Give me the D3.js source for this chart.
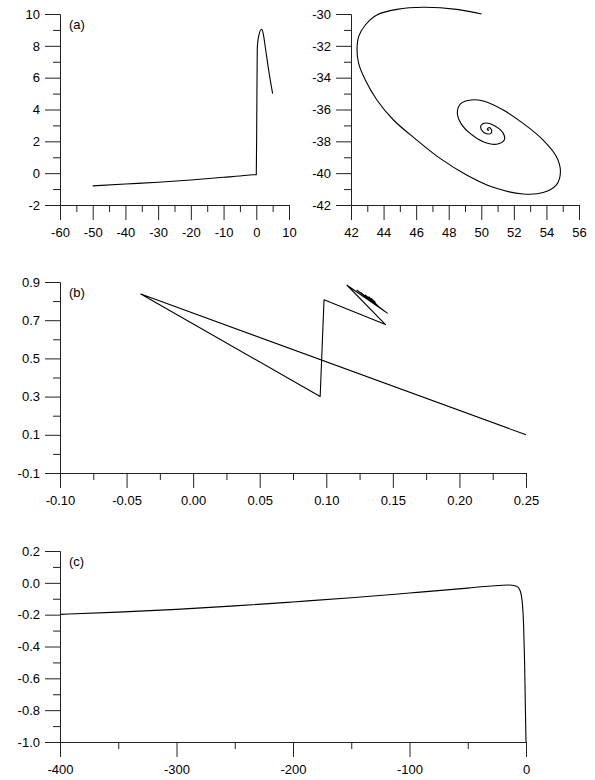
<!DOCTYPE html>
<html>
<head>
<meta charset="utf-8">
<script src="https://cdn.jsdelivr.net/npm/d3@7"></script>
<style>
  body { margin: 0; background: #fff; }
  svg text { font-family: "Liberation Sans", Arial, sans-serif; }
</style>
</head>
<body>
<div class="chart"></div>
<script>
// ---- data ----
// (a) left: trajectory
var aLeftX = [-50, -40, -30, -20, -10, -5, -1, 0, 0.15, 0.3, 0.8, 1.6, 2.1, 2.8, 3.85, 5];
var aLeftY = [-0.8, -0.68, -0.57, -0.43, -0.26, -0.18, -0.1, -0.1, 3.5, 7.85, 8.68, 9.04, 8.79, 7.85, 6.38, 5.0];

// (a) right: spiral
var aRightX = [50.02, 48.49, 46.45, 44.82, 43.59, 42.88, 42.47, 42.37, 42.47, 42.88, 43.59, 44.61, 46.04,
  47.47, 49.10, 50.73, 52.57, 53.80, 54.61, 54.86, 54.61, 53.80, 52.57, 51.35, 50.12, 49.40, 48.75,
  48.53, 48.75, 49.31, 50.12, 50.94, 51.41, 51.35, 50.84, 50.30, 50.00, 50.00, 50.33, 50.59, 50.63,
  50.49, 50.36, 50.43, 50.47];
var aRightY = [-30.00, -29.71, -29.58, -29.71, -30.06, -30.69, -31.42, -32.26, -33.10, -34.15, -35.40,
  -36.66, -37.92, -39.07, -40.11, -40.89, -41.31, -41.22, -40.74, -39.91, -38.96, -37.92, -36.87,
  -36.03, -35.47, -35.40, -35.62, -36.20, -36.87, -37.50, -38.02, -38.18, -37.92, -37.50, -37.04,
  -36.85, -36.97, -37.25, -37.52, -37.50, -37.29, -37.14, -37.23, -37.31, -37.25];

// (b)
var bX = [0.25, -0.0393, 0.0954, 0.0983, 0.1445, 0.1156, 0.1458, 0.1231, 0.144, 0.1257, 0.1425,
  0.1294, 0.1407, 0.132, 0.139, 0.134, 0.1375, 0.135, 0.137];
var bY = [0.1, 0.837, 0.301, 0.807, 0.677, 0.883, 0.737, 0.857, 0.746, 0.845, 0.753,
  0.831, 0.762, 0.822, 0.771, 0.813, 0.779, 0.805, 0.793];

// (c)
var cX = [-400, -350, -300, -250, -200, -150, -100, -50, -30, -15, -8, -5, -3, -2, -1.2, -0.5, 0];
var cY = [-0.198, -0.184, -0.167, -0.145, -0.12, -0.094, -0.064, -0.033, -0.02, -0.014, -0.022,
  -0.05, -0.14, -0.28, -0.5, -0.8, -1.0];

// tick values
var aLeftXTicks = [-60, -50, -40, -30, -20, -10, 0, 10];
var aLeftYTicks = [-2, 0, 2, 4, 6, 8, 10];
var aRightXTicks = [42, 44, 46, 48, 50, 52, 54, 56];
var aRightYTicks = [-42, -40, -38, -36, -34, -32, -30];
var bXTicks = [-0.10, -0.05, 0.00, 0.05, 0.10, 0.15, 0.20, 0.25];
var bYTicks = [-0.1, 0.1, 0.3, 0.5, 0.7, 0.9];
var cXTicks = [-400, -300, -200, -100, 0];
var cYTicks = [-1.0, -0.8, -0.6, -0.4, -0.2, 0.0, 0.2];

// plain hyphen for negative numbers, like the original
var locale = d3.formatLocale({ decimal: ".", thousands: ",", grouping: [3], currency: ["", ""], minus: "-" });

var svg = d3.select(".chart")
  .append("svg")
  .attr("width", 595)
  .attr("height", 780);

// midpoints between major ticks -> minor ticks
function minors(ticks) {
  var m = [];
  for (var i = 0; i < ticks.length - 1; i++) m.push((ticks[i] + ticks[i + 1]) / 2);
  return m;
}

function drawPanel(p) {
  var x = d3.scaleLinear().domain(d3.extent(p.xTicks)).range([p.left, p.right]);
  var y = d3.scaleLinear().domain(d3.extent(p.yTicks)).range([p.bottom, p.top]);

  // minor ticks
  svg.append("g")
    .attr("transform", `translate(0, ${p.bottom})`)
    .call(d3.axisBottom(x).tickValues(minors(p.xTicks)).tickSize(7).tickSizeOuter(0).tickFormat(""));
  svg.append("g")
    .attr("transform", `translate(${p.left}, 0)`)
    .call(d3.axisLeft(y).tickValues(minors(p.yTicks)).tickSize(7).tickSizeOuter(0).tickFormat(""));

  // major ticks
  svg.append("g")
    .attr("class", "axis")
    .attr("transform", `translate(0, ${p.bottom})`)
    .call(d3.axisBottom(x).tickValues(p.xTicks).tickSize(15).tickSizeOuter(0)
      .tickPadding(8).tickFormat(locale.format(p.xFmt)));
  svg.append("g")
    .attr("class", "axis")
    .attr("transform", `translate(${p.left}, 0)`)
    .call(d3.axisLeft(y).tickValues(p.yTicks).tickSize(15).tickSizeOuter(0)
      .tickPadding(5).tickFormat(locale.format(p.yFmt)));

  var pts = p.xs.map((v, i) => [v, p.ys[i]]);
  svg.append("path")
    .datum(pts)
    .attr("fill", "none")
    .attr("stroke", "#000")
    .attr("stroke-width", 1.1)
    .attr("stroke-linejoin", "round")
    .attr("d", d3.line().x(d => x(d[0])).y(d => y(d[1])).curve(p.curve));

  if (p.label) {
    svg.append("text")
      .attr("x", p.left + 9)
      .attr("y", p.top + 15)
      .attr("font-size", 13)
      .text(p.label);
  }
}

drawPanel({ xs: aLeftX, ys: aLeftY, xTicks: aLeftXTicks, yTicks: aLeftYTicks,
  left: 60, right: 289, top: 14, bottom: 205, xFmt: "d", yFmt: "d",
  curve: d3.curveMonotoneX, label: "(a)" });

drawPanel({ xs: aRightX, ys: aRightY, xTicks: aRightXTicks, yTicks: aRightYTicks,
  left: 351, right: 579, top: 14, bottom: 205, xFmt: "d", yFmt: "d",
  curve: d3.curveCatmullRom, label: null });

drawPanel({ xs: bX, ys: bY, xTicks: bXTicks, yTicks: bYTicks,
  left: 60, right: 526, top: 282, bottom: 473, xFmt: ".2f", yFmt: ".1f",
  curve: d3.curveLinear, label: "(b)" });

drawPanel({ xs: cX, ys: cY, xTicks: cXTicks, yTicks: cYTicks,
  left: 60, right: 526, top: 551, bottom: 742, xFmt: "d", yFmt: ".1f",
  curve: d3.curveMonotoneX, label: "(c)" });

// axis styling
svg.selectAll(".domain, .tick line").attr("stroke", "#222").attr("stroke-width", 1);
svg.selectAll(".tick text").attr("font-size", 13).attr("fill", "#000")
  .attr("font-family", "Liberation Sans, Arial, sans-serif");
</script>
</body>
</html>
